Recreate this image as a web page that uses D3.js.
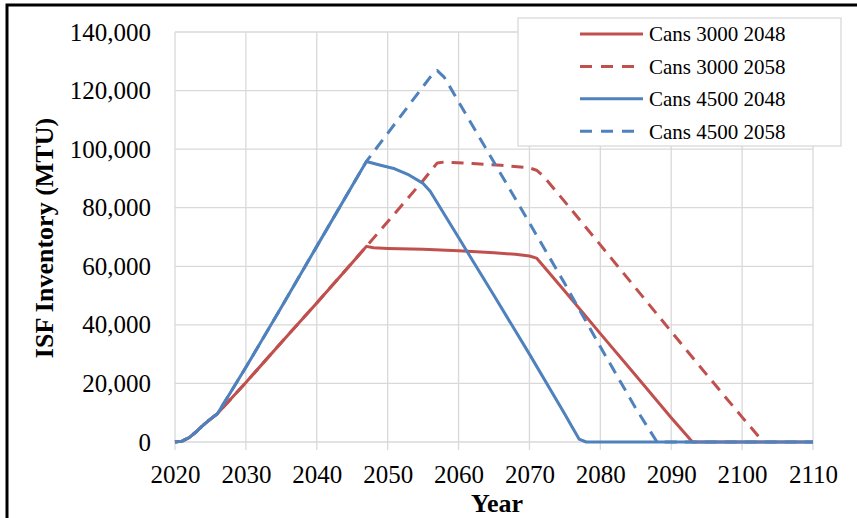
<!DOCTYPE html>
<html>
<head>
<meta charset="utf-8">
<script src="https://cdn.jsdelivr.net/npm/d3@7"></script>
<style>
  body { margin: 0; background: #fff; }
  text { font-family: "Liberation Serif", "Times New Roman", serif; fill: #000; }
</style>
</head>
<body>
<div id="chart"></div>
<script>
// values, [year, ISF inventory in MTU]
var cans3000_2048 = [[2020,0],[2021,300],[2022,1500],[2023,3500],[2024,5800],[2025,7800],[2026,9700],
	[2030,20300],[2035,34000],[2040,47500],[2045,61200],[2047,66800],[2048,66300],[2050,66100],
	[2055,65800],[2060,65300],[2065,64600],[2068,64100],[2070,63500],[2071,62800],[2075,51500],
	[2080,37000],[2085,22700],[2090,8300],[2093,0],[2110,0]];

var cans3000_2058 = [[2020,0],[2021,300],[2022,1500],[2023,3500],[2024,5800],[2025,7800],[2026,9700],
	[2030,20300],[2035,34000],[2040,47500],[2045,61200],[2047,66800],[2050,75200],[2055,89300],
	[2057,95300],[2058,95600],[2062,95100],[2066,94500],[2070,93600],[2071,92800],[2072,90700],
	[2075,82000],[2080,67300],[2085,52500],[2090,37700],[2095,23000],[2100,8500],[2103,0]];

var cans4500_2048 = [[2020,0],[2021,300],[2022,1500],[2023,3500],[2024,5800],[2025,7800],[2026,9700],
	[2030,25500],[2035,46000],[2040,66800],[2045,87500],[2047,95800],[2049,94500],[2051,93300],
	[2053,91200],[2055,88300],[2056,85600],[2060,69800],[2065,50000],[2070,30000],[2075,9500],
	[2076,5200],[2077,1000],[2078,0],[2110,0]];

var cans4500_2058 = [[2020,0],[2021,300],[2022,1500],[2023,3500],[2024,5800],[2025,7800],[2026,9700],
	[2030,25500],[2035,46000],[2040,66800],[2045,87500],[2047,95800],[2050,105400],[2055,121400],
	[2056,124600],[2057,126800],[2058,124500],[2060,116200],[2065,95500],[2070,74800],[2075,54000],
	[2080,32500],[2085,11500],[2088,0],[2110,0]];

var seriesNames = ["Cans 3000 2048", "Cans 3000 2058", "Cans 4500 2048", "Cans 4500 2058"];
var seriesData = [cans3000_2048, cans3000_2058, cans4500_2048, cans4500_2058];
var seriesColor = ["#C0504D", "#C0504D", "#4F81BD", "#4F81BD"];
var seriesDash = [null, "12,8", null, "12,8"];

var xTicks = d3.range(2020, 2111, 10);
var yTicks = d3.range(0, 140001, 20000);

var width = 857,
	height = 518;

var svg = d3.select("#chart").append("svg")
	.attr("width", width)
	.attr("height", height);

// black frame, only top and left edges fall inside the picture
svg.append("rect")
	.attr("x", 7).attr("y", 5)
	.attr("width", 900).attr("height", 600)
	.style("fill", "none")
	.style("stroke", "#000")
	.style("stroke-width", 3);

var x = d3.scaleLinear().domain([2020, 2110]).range([175, 813]);
var y = d3.scaleLinear().domain([0, 140000]).range([442, 32]);

// gridlines
var grid = svg.append("g");
grid.selectAll(".hgrid")
	.data(yTicks)
	.enter().append("line")
	.attr("x1", x(2020)).attr("x2", x(2110))
	.attr("y1", function(d) { return y(d); })
	.attr("y2", function(d) { return y(d); })
	.style("stroke", "#d9d9d9")
	.style("stroke-width", 1.3);

grid.selectAll(".vgrid")
	.data(xTicks)
	.enter().append("line")
	.attr("x1", function(d) { return x(d); })
	.attr("x2", function(d) { return x(d); })
	.attr("y1", y(140000)).attr("y2", y(0) + 8)
	.style("stroke", "#d9d9d9")
	.style("stroke-width", 1.3);

// axes, labels only
var xAxis = svg.append("g")
	.attr("transform", "translate(0," + y(0) + ")")
	.call(d3.axisBottom(x).tickValues(xTicks).tickFormat(d3.format("d")).tickSize(0).tickPadding(23));
xAxis.select(".domain").remove();
xAxis.selectAll("text").style("font-size", "25px").style("font-family", "Liberation Serif");

var yAxis = svg.append("g")
	.attr("transform", "translate(" + (x(2020) - 24) + ",0)")
	.call(d3.axisLeft(y).tickValues(yTicks).tickFormat(d3.format(",")).tickSize(0).tickPadding(0));
yAxis.select(".domain").remove();
yAxis.selectAll("text").style("font-size", "25px").style("font-family", "Liberation Serif");

// axis titles
svg.append("text")
	.attr("transform", "translate(53,238) rotate(-90)")
	.style("text-anchor", "middle")
	.style("font-size", "26px")
	.style("font-weight", "bold")
	.text("ISF Inventory (MTU)");

svg.append("text")
	.attr("x", 497).attr("y", 512)
	.style("text-anchor", "middle")
	.style("font-size", "26px")
	.style("font-weight", "bold")
	.text("Year");

// the four series
var line = d3.line()
	.x(function(d) { return x(d[0]); })
	.y(function(d) { return y(d[1]); });

svg.append("g").selectAll("path")
	.data(seriesData)
	.enter().append("path")
	.attr("d", function(d) { return line(d); })
	.style("fill", "none")
	.style("stroke", function(d, i) { return seriesColor[i]; })
	.style("stroke-width", 3)
	.style("stroke-dasharray", function(d, i) { return seriesDash[i]; })
	.style("stroke-linejoin", "round");

// legend
var legend = svg.append("g");
legend.append("rect")
	.attr("x", 518).attr("y", 18)
	.attr("width", 323).attr("height", 128)
	.style("fill", "#fff")
	.style("stroke", "#d9d9d9")
	.style("stroke-width", 1.3);

var items = legend.selectAll(".item")
	.data(seriesNames)
	.enter().append("g")
	.attr("transform", function(d, i) { return "translate(0," + (34 + i * 32.4) + ")"; });

items.append("line")
	.attr("x1", 580).attr("x2", 643)
	.style("stroke", function(d, i) { return seriesColor[i]; })
	.style("stroke-width", 3)
	.style("stroke-dasharray", function(d, i) { return seriesDash[i] ? "12,9" : null; });

items.append("text")
	.attr("x", 649).attr("dy", "0.35em")
	.style("font-size", "21px")
	.text(function(d) { return d; });
</script>
</body>
</html>
